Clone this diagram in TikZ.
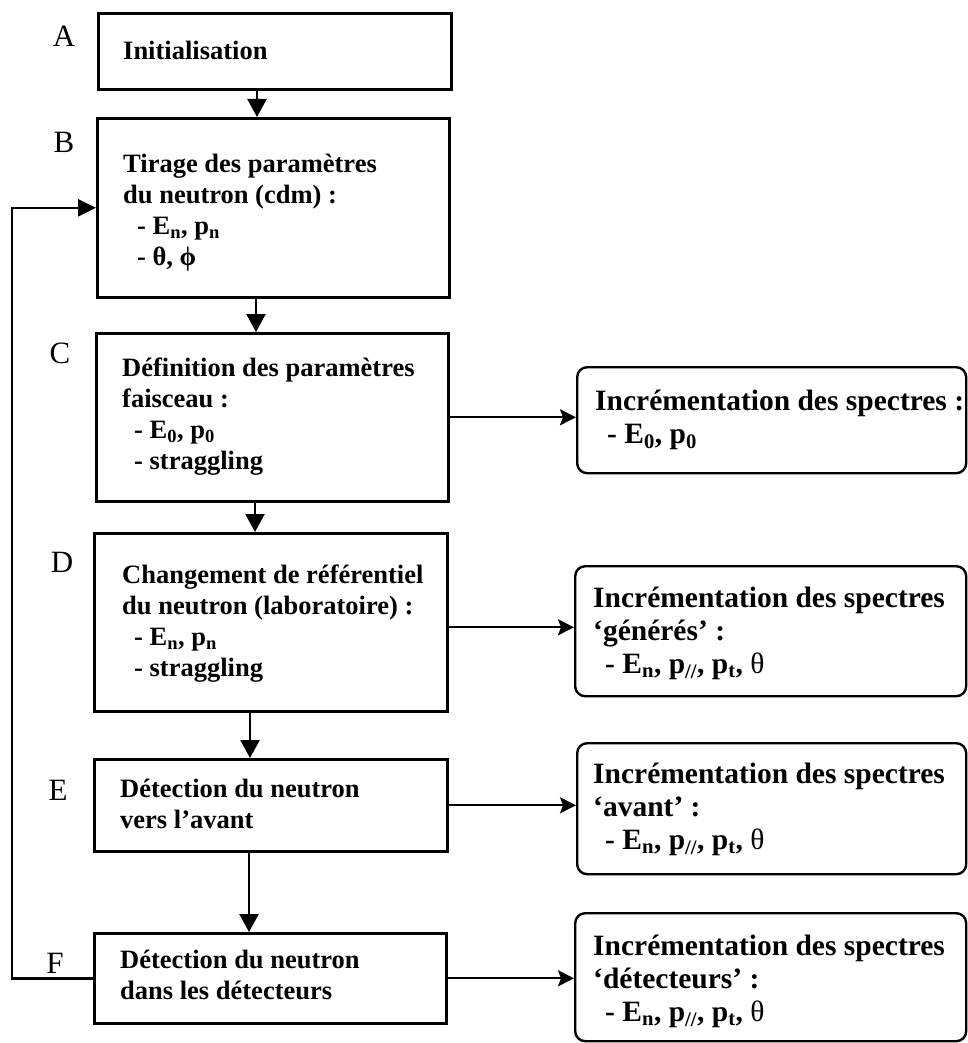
\documentclass[tikz,border=0pt]{standalone}
\usepackage{fontspec}
\setmainfont{Liberation Serif}
\usetikzlibrary{arrows.meta,calc}
\begin{document}
\begin{tikzpicture}[x=1pt,y=-1pt,
  lbox/.style={draw, line width=2.6pt, rectangle, anchor=north west, inner sep=0pt},
  rbox/.style={draw, line width=2.4pt, rounded corners=10pt, rectangle, anchor=north west, inner sep=0pt},
  ltxt/.style={font=\fontsize{26.5}{31}\selectfont\bfseries, align=left, anchor=north west, inner sep=0pt},
  rtxt/.style={font=\fontsize{29.5}{33}\selectfont\bfseries, align=left, anchor=north west, inner sep=0pt},
  lab/.style={font=\fontsize{31}{34}\selectfont, anchor=base, inner sep=0pt},
  varr/.style={line width=2.4pt, -{Triangle[length=18pt,width=19pt]}},
  harr/.style={line width=2.2pt, -{Stealth[length=16pt,width=16pt,inset=3pt]}},
]
\useasboundingbox (0,0) rectangle (968,1043);

% left boxes
\node[lbox, minimum width=353pt, minimum height=76pt]  (A) at (97,12)  {};
\node[lbox, minimum width=352pt, minimum height=179pt] (B) at (96,117) {};
\node[lbox, minimum width=352pt, minimum height=168pt] (C) at (95,332) {};
\node[lbox, minimum width=353pt, minimum height=178pt] (D) at (93,532) {};
\node[lbox, minimum width=353pt, minimum height=92pt]  (E) at (93,758) {};
\node[lbox, minimum width=352pt, minimum height=90pt]  (F) at (93,932) {};

% right boxes
\node[rbox, minimum width=389pt, minimum height=106pt] (R1) at (576,366) {};
\node[rbox, minimum width=391pt, minimum height=130pt] (R2) at (574,565) {};
\node[rbox, minimum width=389pt, minimum height=131pt] (R3) at (576,742) {};
\node[rbox, minimum width=391pt, minimum height=128pt] (R4) at (574,912) {};

% letters
\node[lab] (LA) at (64,47)  {A};
\node[lab] (LB) at (64,153) {B};
\node[lab] (LC) at (60,363) {C};
\node[lab] (LD) at (62,572) {D};
\node[lab] (LE) at (58,800) {E};
\node[lab] (LF) at (55,973) {F};

% left texts
\node[ltxt] (At) at (123,41) {Initialisation};
\node[ltxt] (Bt) at (123,154) {Tirage des paramètres\\du neutron (cdm) :\\\hspace*{14pt}- E\textsubscript{n}, p\textsubscript{n}\\\hspace*{14pt}- θ, ϕ};
\node[ltxt] (Ct) at (122,358) {Définition des paramètres\\faisceau :\\\hspace*{12pt}- E\textsubscript{0}, p\textsubscript{0}\\\hspace*{12pt}- straggling};
\node[ltxt] (Dt) at (122,565) {Changement de référentiel\\du neutron (laboratoire) :\\\hspace*{12pt}- E\textsubscript{n}, p\textsubscript{n}\\\hspace*{12pt}- straggling};
\node[ltxt] (Et) at (120,779) {Détection du neutron\\vers l’avant};
\node[ltxt] (Ft) at (120,950) {Détection du neutron\\dans les détecteurs};

% right texts
\node[rtxt] (R1t) at (595,390) {Incrémentation des spectres :\\\hspace*{12pt}- E\textsubscript{0}, p\textsubscript{0}};
\node[rtxt] (R2t) at (593,587) {Incrémentation des spectres\\‘générés’ :\\\hspace*{12pt}- E\textsubscript{n}, p\textsubscript{//}, p\textsubscript{t}, \mdseries θ};
\node[rtxt] (R3t) at (593,763) {Incrémentation des spectres\\‘avant’ :\\\hspace*{12pt}- E\textsubscript{n}, p\textsubscript{//}, p\textsubscript{t}, \mdseries θ};
\node[rtxt] (R4t) at (593,935) {Incrémentation des spectres\\‘détecteurs’ :\\\hspace*{12pt}- E\textsubscript{n}, p\textsubscript{//}, p\textsubscript{t}, \mdseries θ};

% vertical arrows
\coordinate (x1) at (257,0);
\coordinate (x2) at (256,0);
\coordinate (x3) at (255,0);
\coordinate (x4) at (250,0);
\coordinate (x5) at (249,0);
\draw[varr] (x1 |- A.south) -- (x1 |- B.north);
\draw[varr] (x2 |- B.south) -- (x2 |- C.north);
\draw[varr] (x3 |- C.south) -- (x3 |- D.north);
\draw[varr] (x4 |- D.south) -- (x4 |- E.north);
\draw[varr] (x5 |- E.south) -- (x5 |- F.north);

% loop back
\coordinate (lx) at (12,0);
\draw[line width=2.4pt, -{Triangle[length=18pt,width=17pt]}] (F.west) -- (F.west -| lx) -- (lx |- B.west) -- (B.west);

% horizontal arrows
\draw[harr] (C.east) -- (C.east -| R1.west);
\draw[harr] ([yshift=-5pt]D.east) -- ([yshift=-5pt]D.east -| R2.west);
\draw[harr] (E.east) -- (E.east -| R3.west);
\draw[harr] (F.east) -- (F.east -| R4.west);
\end{tikzpicture}
\end{document}
